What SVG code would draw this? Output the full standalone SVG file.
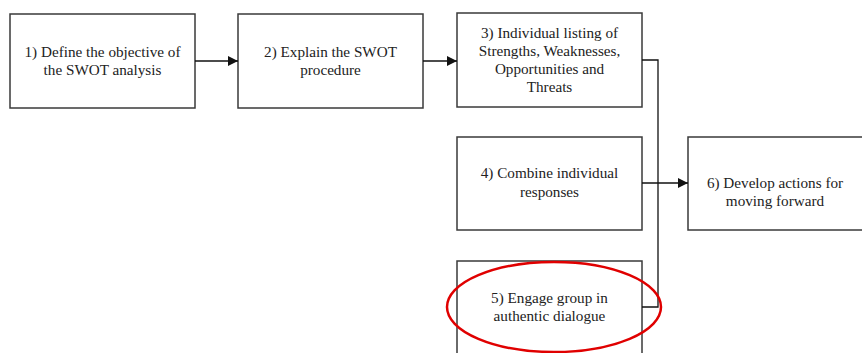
<svg xmlns="http://www.w3.org/2000/svg" width="862" height="353" viewBox="0 0 862 353">
<defs>
<style>
.box{fill:#fff;stroke:#3a3a3a;stroke-width:1.5}
.t{font-family:"Liberation Serif","Times New Roman",serif;font-size:15.2px;fill:#222;text-anchor:middle}
.c{fill:none;stroke:#111;stroke-width:1.3}
</style>
<marker id="ah" viewBox="0 0 10 10" refX="10" refY="5" markerWidth="10" markerHeight="10" markerUnits="userSpaceOnUse" orient="auto"><path d="M0,0 L10,5 L0,10 z" fill="#111"/></marker>
</defs>
<rect width="862" height="353" fill="#fff"/>
<g id="n1"><rect class="box" x="10" y="14" width="185" height="94"/><text class="t" x="102.5" y="57">1) Define the objective of</text><text class="t" x="102.5" y="75">the SWOT analysis</text></g>
<g id="n2"><rect class="box" x="238" y="14" width="185" height="94"/><text class="t" x="330.5" y="57">2) Explain the SWOT</text><text class="t" x="330.5" y="75">procedure</text></g>
<g id="n3"><rect class="box" x="457" y="13" width="185" height="94"/><text class="t" x="549.5" y="38">3) Individual listing of</text><text class="t" x="549.5" y="56">Strengths, Weaknesses,</text><text class="t" x="549.5" y="74">Opportunities and</text><text class="t" x="549.5" y="92">Threats</text></g>
<g id="n4"><rect class="box" x="457" y="137" width="185" height="93"/><text class="t" x="549.5" y="178">4) Combine individual</text><text class="t" x="549.5" y="197">responses</text></g>
<g id="n5"><rect class="box" x="457" y="261" width="185" height="100"/><text class="t" x="549.5" y="303">5) Engage group in</text><text class="t" x="549.5" y="321">authentic dialogue</text></g>
<g id="n6"><rect class="box" x="688" y="137" width="180" height="93"/><text class="t" x="775" y="188">6) Develop actions for</text><text class="t" x="775" y="206">moving forward</text></g>
<g id="connectors">
<line class="c" x1="195" y1="61" x2="238" y2="61" marker-end="url(#ah)"/>
<line class="c" x1="423" y1="61" x2="457" y2="61" marker-end="url(#ah)"/>
<polyline class="c" points="642,60 658,60 658,307 642,307"/>
<line class="c" x1="642" y1="183" x2="688" y2="183" marker-end="url(#ah)"/>
</g>
<ellipse cx="554" cy="307" rx="107" ry="45" fill="none" stroke="#e00000" stroke-width="2.5"/>
</svg>
